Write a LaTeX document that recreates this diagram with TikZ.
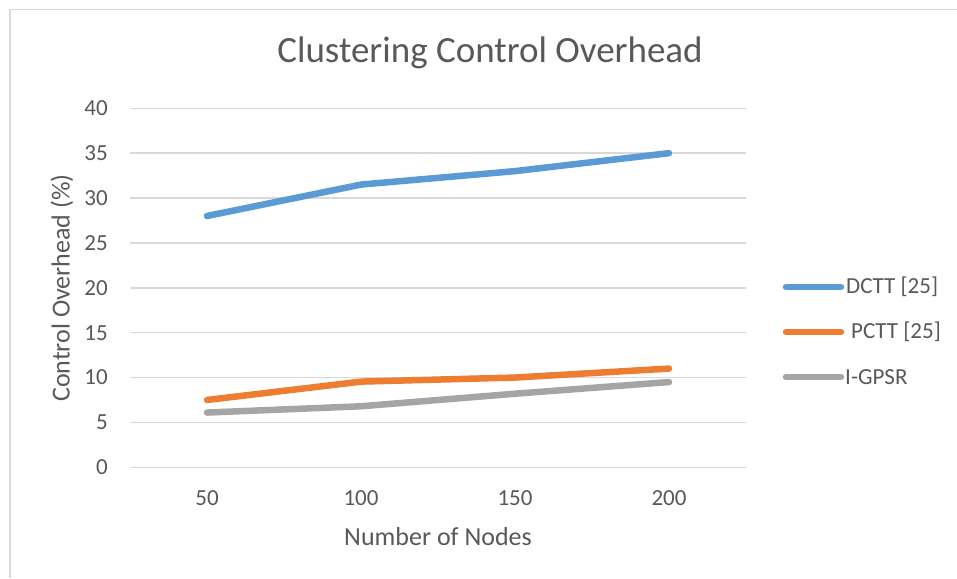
\documentclass[tikz,border=0pt]{standalone}
\usepackage{fontspec}
\setmainfont{Carlito}
\definecolor{txt}{HTML}{595959}
\definecolor{grid}{HTML}{D9D9D9}
\definecolor{sblue}{HTML}{5B9BD5}
\definecolor{sorange}{HTML}{ED7D31}
\definecolor{sgray}{HTML}{A5A5A5}
\begin{document}
\begin{tikzpicture}[x=1pt,y=-1pt,
  gridline/.style={draw=grid,line width=1.6pt},
  series/.style={line width=6.5pt,line cap=round,line join=round},
  ticklbl/.style={text=txt,font=\fontsize{23}{26}\selectfont,inner sep=0pt},
  axtitle/.style={text=txt,font=\fontsize{26}{30}\selectfont,inner sep=0pt},
  legtext/.style={text=txt,font=\fontsize{23}{26}\selectfont,inner sep=0pt,anchor=west}]
\useasboundingbox (0,0) rectangle (957,578);
\fill[white] (0,0) rectangle (957,578);
% chart frame
\draw[draw=grid,line width=1.6pt] (10,578) -- (10,9.5) -- (957,9.5);
% gridlines and y tick labels
\foreach \v in {0,5,...,40}{
  \pgfmathsetmacro{\yy}{467.3-\v*8.975}
  \draw[gridline] (130,\yy) -- (746,\yy);
  \node[ticklbl,anchor=east] (yt\v) at (108,\yy) {\v};
}
% x tick labels
\foreach \lbl/\xx in {50/207,100/361,150/515,200/669}{
  \node[ticklbl] (xt\lbl) at (\xx,498) {\lbl};
}
% title
\node[text=txt,font=\fontsize{37}{42}\selectfont,inner sep=0pt] (title) at (490,53) {Clustering Control Overhead};
% axis titles
\node[axtitle] (xtitle) at (438,537) {Number of Nodes};
\node[axtitle,rotate=90] (ytitle) at (62,288) {Control Overhead (\%)};
% data coordinates
\foreach \s/\a/\b/\c/\d in {d/28/31.5/33/35, p/7.5/9.55/10/11, g/6.1/6.8/8.2/9.5}{
  \coordinate (\s1) at (207,{467.3-\a*8.975});
  \coordinate (\s2) at (361,{467.3-\b*8.975});
  \coordinate (\s3) at (515,{467.3-\c*8.975});
  \coordinate (\s4) at (669,{467.3-\d*8.975});
}
\draw[series,sgray] (g1) -- (g2) -- (g3) -- (g4);
\draw[series,sorange] (p1) -- (p2) -- (p3) -- (p4);
\draw[series,sblue] (d1) -- (d2) -- (d3) -- (d4);
% legend
\coordinate (la1) at (786,287); \coordinate (lb1) at (841,287);
\coordinate (la2) at (786,332); \coordinate (lb2) at (841,332);
\coordinate (la3) at (786,377); \coordinate (lb3) at (841,377);
\draw[series,sblue] (la1) -- (lb1);
\draw[series,sorange] (la2) -- (lb2);
\draw[series,sgray] (la3) -- (lb3);
\node[legtext] (l1) at (846,287) {DCTT [25]};
\node[legtext] (l2) at (851,332) {PCTT [25]};
\node[legtext] (l3) at (845,377) {I-GPSR};
\end{tikzpicture}
\end{document}
